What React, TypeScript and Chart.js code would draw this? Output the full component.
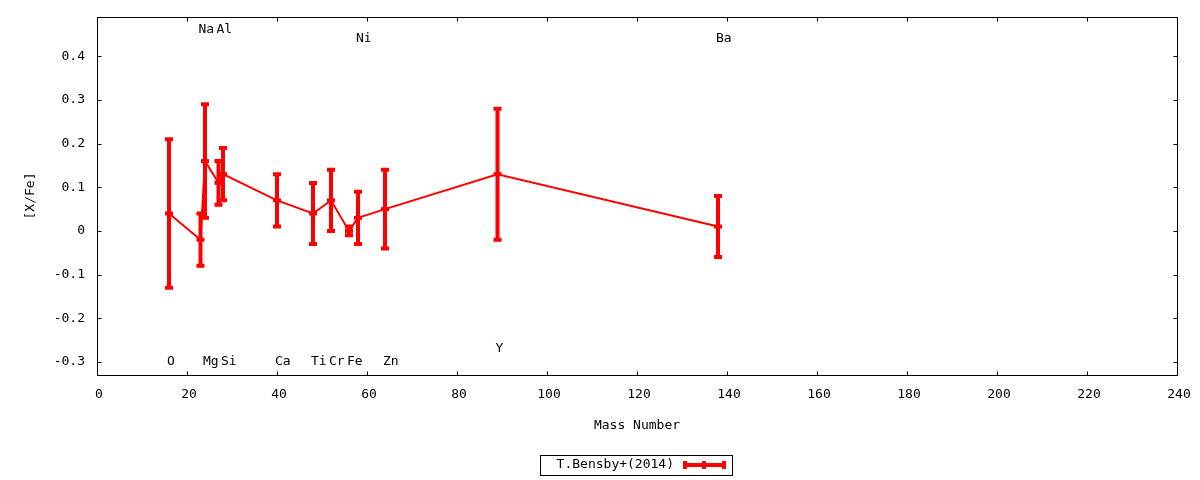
import React, { useEffect, useRef } from "react";
import { Chart, registerables } from "chart.js";

Chart.register(...registerables);

// abundance data, one entry per element
const elements = ["O", "Na", "Mg", "Al", "Si", "Ca", "Ti", "Cr", "Fe", "Ni", "Zn", "Y", "Ba"];
const massNumbers = [16, 23, 24, 27, 28, 40, 48, 52, 56, 58, 64, 89, 138];
const xFe = [0.04, -0.02, 0.16, 0.11, 0.13, 0.07, 0.04, 0.07, 0.0, 0.03, 0.05, 0.13, 0.01];
const xFeErr = [0.17, 0.06, 0.13, 0.05, 0.06, 0.06, 0.07, 0.07, 0.01, 0.06, 0.09, 0.15, 0.07];
// vertical place of each element name label
const labelY = [-0.3, 0.46, -0.3, 0.46, -0.3, -0.3, -0.3, -0.3, -0.3, 0.44, -0.3, -0.27, 0.44];

const xTicks = [0, 20, 40, 60, 80, 100, 120, 140, 160, 180, 200, 220, 240];
const yTicks = [-0.3, -0.2, -0.1, 0, 0.1, 0.2, 0.3, 0.4];

const seriesName = "T.Bensby+(2014)";
const RED = "#ff0000";
const FONT = "'DejaVu Sans Mono', monospace";

const errorBars = {
  id: "errorBars",
  afterDatasetsDraw(chart: any) {
    const { ctx } = chart;
    const x = chart.scales.x;
    const y = chart.scales.y;
    ctx.save();
    ctx.strokeStyle = RED;
    ctx.lineWidth = 4;
    massNumbers.forEach((m, i) => {
      const px = x.getPixelForValue(m);
      const top = y.getPixelForValue(xFe[i] + xFeErr[i]);
      const bot = y.getPixelForValue(xFe[i] - xFeErr[i]);
      ctx.beginPath();
      ctx.moveTo(px, top);
      ctx.lineTo(px, bot);
      ctx.moveTo(px - 4, top);
      ctx.lineTo(px + 4, top);
      ctx.moveTo(px - 4, bot);
      ctx.lineTo(px + 4, bot);
      ctx.stroke();
    });
    // element names
    ctx.fillStyle = "#000";
    ctx.font = `13px ${FONT}`;
    ctx.textAlign = "left";
    ctx.textBaseline = "middle";
    elements.forEach((el, i) => {
      ctx.fillText(el, x.getPixelForValue(massNumbers[i]) - 2, y.getPixelForValue(labelY[i]));
    });
    ctx.restore();
  },
};

const frame = {
  id: "frame",
  afterDraw(chart: any) {
    const { ctx, chartArea: a } = chart;
    const x = chart.scales.x;
    const y = chart.scales.y;
    ctx.save();
    ctx.strokeStyle = "#000";
    ctx.lineWidth = 1;
    const l = Math.round(a.left) + 0.5;
    const r = Math.round(a.right) + 0.5;
    const t = Math.round(a.top) + 0.5;
    const b = Math.round(a.bottom) + 0.5;
    ctx.strokeRect(l, t, r - l, b - t);
    ctx.beginPath();
    xTicks.forEach((v) => {
      const px = Math.round(x.getPixelForValue(v)) + 0.5;
      ctx.moveTo(px, b);
      ctx.lineTo(px, b - 4);
      ctx.moveTo(px, t);
      ctx.lineTo(px, t + 4);
    });
    yTicks.forEach((v) => {
      const py = Math.round(y.getPixelForValue(v)) + 0.5;
      ctx.moveTo(l, py);
      ctx.lineTo(l + 4, py);
      ctx.moveTo(r, py);
      ctx.lineTo(r - 4, py);
    });
    ctx.stroke();

    // key box
    ctx.strokeRect(540.5, 455.5, 192, 20);
    ctx.fillStyle = "#000";
    ctx.font = `13px ${FONT}`;
    ctx.textAlign = "right";
    ctx.textBaseline = "middle";
    ctx.fillText(seriesName, 674, 465);
    ctx.strokeStyle = RED;
    ctx.lineWidth = 4;
    ctx.beginPath();
    ctx.moveTo(683, 465);
    ctx.lineTo(726, 465);
    ctx.moveTo(685, 461);
    ctx.lineTo(685, 469);
    ctx.moveTo(724, 461);
    ctx.lineTo(724, 469);
    ctx.moveTo(704, 461);
    ctx.lineTo(704, 469);
    ctx.stroke();
    ctx.restore();
  },
};

const App = () => {
  const chartRef = useRef<HTMLCanvasElement | null>(null);
  const chartInstance = useRef<Chart | null>(null);

  useEffect(() => {
    const config: any = {
      type: "line",
      data: {
        datasets: [
          {
            label: seriesName,
            data: massNumbers.map((m, i) => ({ x: m, y: xFe[i] })),
            borderColor: RED,
            backgroundColor: RED,
            borderWidth: 2,
            pointStyle: "line",
            pointRadius: 4,
            pointHoverRadius: 4,
            pointBorderWidth: 4,
            pointBorderColor: RED,
            tension: 0,
          },
        ],
      },
      options: {
        animation: false,
        responsive: true,
        maintainAspectRatio: false,
        layout: { autoPadding: false, padding: { top: 17, right: 23, left: 0, bottom: 0 } },
        plugins: {
          legend: { display: false },
          tooltip: { enabled: false },
        },
        scales: {
          x: {
            type: "linear",
            min: 0,
            max: 240,
            grid: { display: false, drawTicks: false },
            border: { display: false },
            afterBuildTicks: (s: any) => {
              s.ticks = xTicks.map((v) => ({ value: v }));
            },
            afterFit: (s: any) => {
              s.height = 105;
              s.paddingLeft = 0;
              s.paddingRight = 0;
            },
            ticks: {
              color: "#000",
              font: { family: FONT, size: 13 },
              padding: 12,
              labelOffset: 2,
              maxRotation: 0,
              callback: (v: number) => String(v),
            },
            title: {
              display: true,
              text: "Mass Number",
              color: "#000",
              font: { family: FONT, size: 13 },
              padding: { top: 0, bottom: 47 },
            },
          },
          y: {
            min: -0.33,
            max: 0.49,
            grid: { display: false, drawTicks: false },
            border: { display: false },
            afterBuildTicks: (s: any) => {
              s.ticks = yTicks.map((v) => ({ value: v }));
            },
            afterFit: (s: any) => {
              s.width = 97;
              s.paddingTop = 0;
              s.paddingBottom = 0;
            },
            ticks: {
              color: "#000",
              font: { family: FONT, size: 13 },
              padding: 12,
              callback: (v: number) => String(Number(v.toFixed(1))),
            },
            title: {
              display: true,
              text: "[X/Fe]",
              color: "#000",
              font: { family: FONT, size: 13 },
              padding: { top: 23, bottom: 0 },
            },
          },
        },
      },
      plugins: [errorBars, frame],
    };

    if (chartInstance.current) {
      chartInstance.current.destroy();
    }
    if (chartRef.current) {
      chartInstance.current = new Chart(chartRef.current, config);
    }
    return () => {
      if (chartInstance.current) {
        chartInstance.current.destroy();
        chartInstance.current = null;
      }
    };
  }, []);

  return (
    <div style={{ position: "absolute", left: 0, top: 0, width: 1200, height: 480, background: "#fff" }}>
      <canvas ref={chartRef}></canvas>
    </div>
  );
};

export default App;
